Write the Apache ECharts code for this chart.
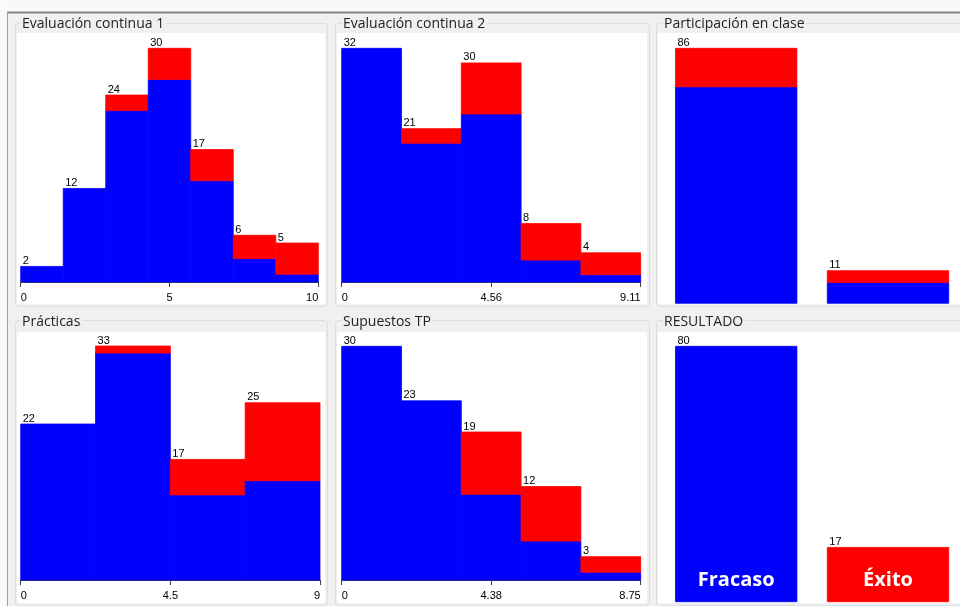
<!DOCTYPE html>
<html>
<head>
<meta charset="utf-8">
<script src="https://cdn.jsdelivr.net/npm/echarts@6/dist/echarts.min.js"></script>
<style>
html,body{margin:0;padding:0;background:#f0f0f0;}
#chart{width:960px;height:606px;}
</style>
</head>
<body>
<div id="chart"></div>
<script>
// ---- Data ----
const panelTitles = ['Evaluación continua 1', 'Evaluación continua 2', 'Participación en clase', 'Prácticas', 'Supuestos TP', 'RESULTADO'];

const ec1Blue = [2, 12, 22, 26, 13, 3, 1];
const ec1Red  = [0, 0, 2, 4, 4, 3, 4];
const ec1RangeMax = 10;
const ec1Ticks = ['0', '5', '10'];

const ec2Blue = [32, 19, 23, 3, 1];
const ec2Red  = [0, 2, 7, 5, 3];
const ec2RangeMax = 9.11;
const ec2Ticks = ['0', '4.56', '9.11'];

const partCategories = ['grupo 1', 'grupo 2'];
const partBlue = [73, 7];
const partRed  = [13, 4];

const pracBlue = [22, 32, 12, 14];
const pracRed  = [0, 1, 5, 11];
const pracRangeMax = 9;
const pracTicks = ['0', '4.5', '9'];

const supBlue = [30, 23, 11, 5, 1];
const supRed  = [0, 0, 8, 7, 2];
const supRangeMax = 8.75;
const supTicks = ['0', '4.38', '8.75'];

const resCategories = ['Fracaso', 'Éxito'];
const resBlue = [80, 0];
const resRed  = [0, 17];

// ---- Styles ----
const BLUE = '#0000ff', RED = '#ff0000';
const valFont = '11px "Liberation Sans", Arial, sans-serif';

function histData(blue, red, rangeMax) {
  const w = rangeMax / blue.length;
  return blue.map((b, i) => [i * w, (i + 1) * w, b, red[i]]);
}
function catData(blue, red) {
  return blue.map((b, i) => [i, b, red[i]]);
}

function histRender(params, api) {
  const x0 = api.value(0), x1 = api.value(1), b = api.value(2), r = api.value(3);
  const p0 = api.coord([x0, 0]);
  const pB = api.coord([x1, b]);
  const pT = api.coord([x1, b + r]);
  const children = [];
  const w = pB[0] - p0[0];
  if (b > 0) children.push({type: 'rect', shape: {x: p0[0], y: pB[1], width: w, height: p0[1] - pB[1]}, style: {fill: BLUE, stroke: BLUE, lineWidth: 0.8}});
  if (r > 0) children.push({type: 'rect', shape: {x: p0[0], y: pT[1], width: w, height: pB[1] - pT[1]}, style: {fill: RED, stroke: RED, lineWidth: 0.8}});
  children.push({type: 'text', x: p0[0] + 2, y: pT[1], style: {text: String(b + r), font: valFont, fill: '#000', verticalAlign: 'bottom', align: 'left'}});
  return {type: 'group', children};
}

function catRenderFactory(showNames, names) {
  return function (params, api) {
    const idx = api.value(0), b = api.value(1), r = api.value(2);
    const c0 = api.coord([idx, 0]);
    const cB = api.coord([idx, b]);
    const cT = api.coord([idx, b + r]);
    const band = api.size([1, 0])[0];
    const w = band * 0.8;
    const x = c0[0] - w / 2;
    const children = [];
    if (b > 0) children.push({type: 'rect', shape: {x, y: cB[1], width: w, height: c0[1] - cB[1]}, style: {fill: BLUE, stroke: BLUE, lineWidth: 0.8}});
    if (r > 0) children.push({type: 'rect', shape: {x, y: cT[1], width: w, height: cB[1] - cT[1]}, style: {fill: RED, stroke: RED, lineWidth: 0.8}});
    children.push({type: 'text', x: x + 2, y: cT[1], style: {text: String(b + r), font: valFont, fill: '#000', verticalAlign: 'bottom', align: 'left'}});
    if (showNames) {
      children.push({type: 'text', x: c0[0], y: c0[1] - 21, style: {text: names[idx], font: 'bold 20px "Open Sans", sans-serif', fill: '#fff', align: 'center', verticalAlign: 'middle'}});
    }
    return {type: 'group', children};
  };
}

// ---- Layout (pixels) ----
const grids = [
  {left: 20.7, top: 48.3, width: 297.6, height: 233.7},
  {left: 341.7, top: 48.3, width: 299, height: 233.7},
  {left: 660.3, top: 48.3, width: 303.6, height: 255},
  {left: 20.7, top: 346, width: 299.3, height: 234},
  {left: 341.7, top: 346.3, width: 299, height: 233.7},
  {left: 660.3, top: 346.3, width: 303.6, height: 255.4}
].map(g => Object.assign({outerBoundsMode: 'none', containLabel: false}, g));

function histXAxis(gi, rangeMax, ticks) {
  const interval = rangeMax / 2;
  return {
    type: 'value', gridIndex: gi, min: 0, max: rangeMax, interval: interval,
    offset: 2.5,
    splitLine: {show: false},
    axisLine: {show: true, lineStyle: {color: '#404040', width: 1}},
    axisTick: {show: true, length: 5, lineStyle: {color: '#404040'}},
    axisLabel: {
      show: true, color: '#000', fontSize: 11, fontFamily: '"Liberation Sans", Arial, sans-serif', margin: 8,
      alignMinLabel: 'left', alignMaxLabel: 'right',
      formatter: v => ticks[Math.round(v / interval)]
    }
  };
}
function catXAxis(gi, cats) {
  return {type: 'category', gridIndex: gi, data: cats, axisLine: {show: false}, axisTick: {show: false}, axisLabel: {show: false}, splitLine: {show: false}};
}
function yAxis(gi, blue, red) {
  const max = Math.max(...blue.map((b, i) => b + red[i]));
  return {type: 'value', gridIndex: gi, min: 0, max: max, show: false, splitLine: {show: false}};
}

// ---- Decorations (panel frames) ----
const graphics = [];
graphics.push({type: 'rect', shape: {x: 0, y: 0, width: 960, height: 12}, style: {fill: '#f9f9f9'}, z: -20});
graphics.push({type: 'rect', shape: {x: 0, y: 0, width: 7, height: 606}, style: {fill: '#fafafa'}, z: -20});
graphics.push({type: 'rect', shape: {x: 7, y: 11.5, width: 953, height: 2}, style: {fill: '#858585'}, z: -19});
graphics.push({type: 'rect', shape: {x: 7, y: 12, width: 1, height: 594}, style: {fill: '#a0a0a0'}, z: -19});
const boxes = [
  {x: 15, y: 23, w: 312, h: 283, wx: 17, wy: 33, ww: 308, wh: 271, tx: 21, ty: 24},
  {x: 335, y: 23, w: 314, h: 283, wx: 337, wy: 33, ww: 310, wh: 271, tx: 342, ty: 24},
  {x: 656, y: 23, w: 320, h: 283, wx: 658, wy: 33, ww: 310, wh: 271, tx: 663, ty: 24},
  {x: 15, y: 320, w: 312, h: 285, wx: 17, wy: 332, ww: 308, wh: 271, tx: 21, ty: 322},
  {x: 335, y: 320, w: 314, h: 285, wx: 337, wy: 332, ww: 310, wh: 271, tx: 342, ty: 322},
  {x: 656, y: 320, w: 320, h: 285, wx: 658, wy: 332, ww: 310, wh: 271, tx: 663, ty: 322}
];
boxes.forEach((b, i) => {
  graphics.push({type: 'rect', shape: {x: b.x + 0.5, y: b.y + 0.5, width: b.w, height: b.h, r: 3}, style: {fill: '#f0f0f0', stroke: '#d5dfe5', lineWidth: 1}, z: -15});
  graphics.push({type: 'rect', shape: {x: b.wx, y: b.wy, width: b.ww, height: b.wh}, style: {fill: '#ffffff'}, z: -14});
  graphics.push({type: 'text', x: b.tx, y: b.ty, style: {text: panelTitles[i], font: '14px "Open Sans", sans-serif', fill: '#222', verticalAlign: 'middle', align: 'left', backgroundColor: '#f0f0f0', padding: [0, 2, 0, 1]}, z: -13});
});

const option = {
  backgroundColor: '#f0f0f0',
  animation: false,
  graphic: {elements: graphics},
  grid: grids,
  xAxis: [
    histXAxis(0, ec1RangeMax, ec1Ticks),
    histXAxis(1, ec2RangeMax, ec2Ticks),
    catXAxis(2, partCategories),
    histXAxis(3, pracRangeMax, pracTicks),
    histXAxis(4, supRangeMax, supTicks),
    catXAxis(5, resCategories)
  ],
  yAxis: [
    yAxis(0, ec1Blue, ec1Red),
    yAxis(1, ec2Blue, ec2Red),
    yAxis(2, partBlue, partRed),
    yAxis(3, pracBlue, pracRed),
    yAxis(4, supBlue, supRed),
    yAxis(5, resBlue, resRed)
  ],
  series: [
    {type: 'custom', xAxisIndex: 0, yAxisIndex: 0, data: histData(ec1Blue, ec1Red, ec1RangeMax), renderItem: histRender, clip: false},
    {type: 'custom', xAxisIndex: 1, yAxisIndex: 1, data: histData(ec2Blue, ec2Red, ec2RangeMax), renderItem: histRender, clip: false},
    {type: 'custom', xAxisIndex: 2, yAxisIndex: 2, data: catData(partBlue, partRed), renderItem: catRenderFactory(false, partCategories), clip: false},
    {type: 'custom', xAxisIndex: 3, yAxisIndex: 3, data: histData(pracBlue, pracRed, pracRangeMax), renderItem: histRender, clip: false},
    {type: 'custom', xAxisIndex: 4, yAxisIndex: 4, data: histData(supBlue, supRed, supRangeMax), renderItem: histRender, clip: false},
    {type: 'custom', xAxisIndex: 5, yAxisIndex: 5, data: catData(resBlue, resRed), renderItem: catRenderFactory(true, resCategories), clip: false}
  ]
};

const chart = echarts.init(document.getElementById('chart'), null, {renderer: 'canvas'});
chart.setOption(option);
</script>
</body>
</html>
